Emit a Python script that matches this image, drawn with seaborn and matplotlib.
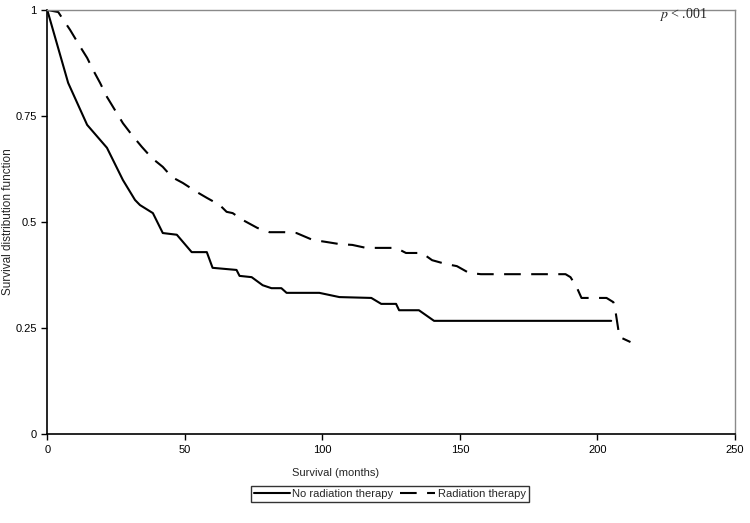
import matplotlib
matplotlib.use('Agg')
import matplotlib.pyplot as plt
import numpy as np
import pandas as pd
import seaborn as sns

# Survival curves (months, survival)
no_rt_months = [0, 7.6, 14.5, 21.7, 27.5, 31.9, 33.7, 38.4, 42.0, 47.1, 52.5, 58.0,
                60.1, 68.8, 69.9, 74.3, 78.3, 81.5, 85.1, 87.0, 98.9, 106.2, 117.8,
                121.4, 126.8, 127.9, 135.1, 140.6, 205.0]
no_rt_surv = [1.0, 0.828, 0.729, 0.675, 0.599, 0.552, 0.540, 0.521, 0.474, 0.470,
              0.429, 0.429, 0.392, 0.387, 0.373, 0.370, 0.351, 0.344, 0.344, 0.333,
              0.333, 0.323, 0.321, 0.307, 0.307, 0.292, 0.292, 0.267, 0.267]

rt_months = [0, 4.0, 5.4, 8.3, 12.0, 14.5, 16.7, 19.2, 21.7, 24.6, 27.5, 30.8, 34.4,
             38.0, 42.0, 45.3, 49.3, 54.3, 58.0, 62.7, 65.2, 67.4, 71.0, 76.4, 80.8,
             86.2, 90.6, 96.4, 101.4, 106.2, 110.9, 115.9, 126.8, 130.4, 136.2, 139.9,
             144.9, 148.9, 153.3, 157.6, 188.4, 190.2, 192.4, 194.2, 203.3, 205.8,
             206.5, 208.0, 212.0]
rt_surv = [1.0, 0.995, 0.981, 0.953, 0.913, 0.887, 0.858, 0.828, 0.795, 0.764, 0.733,
           0.705, 0.677, 0.651, 0.630, 0.606, 0.592, 0.571, 0.557, 0.540, 0.524, 0.521,
           0.505, 0.486, 0.476, 0.476, 0.474, 0.458, 0.453, 0.448, 0.446, 0.439, 0.439,
           0.427, 0.427, 0.410, 0.401, 0.396, 0.380, 0.377, 0.377, 0.370, 0.347, 0.321,
           0.321, 0.311, 0.292, 0.229, 0.217]

groups = ['No radiation therapy', 'Radiation therapy']

df = pd.concat([
    pd.DataFrame({'months': no_rt_months, 'surv': no_rt_surv, 'group': groups[0]}),
    pd.DataFrame({'months': rt_months, 'surv': rt_surv, 'group': groups[1]}),
], ignore_index=True)

sns.set_style('white')
plt.rcParams['font.family'] = ['Liberation Sans', 'DejaVu Sans']
plt.rcParams['mathtext.fontset'] = 'stix'

fig = plt.figure(figsize=(7.5, 5.23), dpi=100)
ax = fig.add_axes([0.063, 0.17, 0.917, 0.811])

sns.lineplot(data=df, x='months', y='surv', hue='group', style='group',
             palette={groups[0]: 'black', groups[1]: 'black'},
             dashes={groups[0]: '', groups[1]: (8, 5)},
             estimator=None, sort=False, linewidth=1.5, ax=ax)

ax.set_xlim(0, 250)
ax.set_ylim(0, 1)
ax.set_xticks([0, 50, 100, 150, 200, 250])
ax.set_yticks([0, 0.25, 0.5, 0.75, 1])
ax.set_yticklabels(['0', '0.25', '0.5', '0.75', '1'])
ax.tick_params(axis='both', labelsize=8, length=4, width=1, direction='out',
               left=True, bottom=True, colors='black')

for side in ['left', 'bottom']:
    ax.spines[side].set_color('black')
    ax.spines[side].set_linewidth(1.2)
for side in ['top', 'right']:
    ax.spines[side].set_color('#8a8a8a')
    ax.spines[side].set_linewidth(1)

ax.set_xlabel('Survival (months)', fontsize=8)
ax.set_ylabel('Survival distribution function', fontsize=8.5)
ax.xaxis.set_label_coords(0.419, -0.08)
ax.yaxis.set_label_coords(-0.049, 0.5)

ax.text(0.925, 0.99, r'$p$ < .001', transform=ax.transAxes, ha='center', va='center',
        fontsize=10, family='Liberation Serif')

handles, labels = ax.get_legend_handles_labels()
ax.legend_.remove()
leg = fig.legend(handles, labels, loc='center', bbox_to_anchor=(0.52, 0.0555), ncol=2,
                 fontsize=8, frameon=True, fancybox=False, edgecolor='black',
                 handlelength=3.2, handletextpad=0.2, columnspacing=0.6,
                 borderpad=0.3, borderaxespad=0)
leg.get_frame().set_linewidth(1)

fig.savefig('out.png', dpi=100)
